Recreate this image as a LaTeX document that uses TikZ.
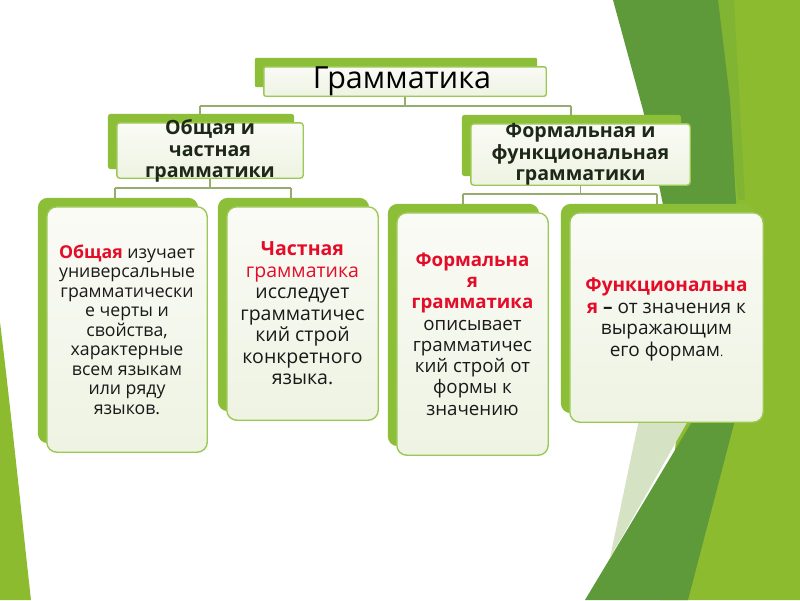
\documentclass[tikz,border=0pt]{standalone}
\usepackage{fontspec}
\setmainfont{Open Sans}
\usetikzlibrary{calc}
\definecolor{ygreen}{RGB}{141,187,48}
\definecolor{lgreen}{RGB}{128,180,50}
\definecolor{bandgreen}{RGB}{94,154,58}
\definecolor{backgreen}{RGB}{140,190,55}
\definecolor{edgegreen}{RGB}{156,200,86}
\definecolor{facetop}{RGB}{250,251,246}
\definecolor{facebot}{RGB}{238,243,226}
\definecolor{wedgec}{RGB}{214,226,196}
\definecolor{connc}{RGB}{150,172,110}
\definecolor{redtxt}{RGB}{228,12,40}
\definecolor{headtxt}{RGB}{30,40,25}
\definecolor{bodytxt}{RGB}{25,25,25}
\tikzset{
  backshape/.style={fill=backgreen, draw=none},
  face/.style={draw=edgegreen, line width=1.4pt, top color=facetop, bottom color=facebot, inner sep=0pt},
  connector/.style={draw=connc, line width=1.3pt},
  headtext/.style={align=center, text=headtxt, font=\bfseries\fontsize{19.6}{21.5}\selectfont, inner sep=0pt},
}
\begin{document}
\begin{tikzpicture}[x=1pt,y=-1pt]
\useasboundingbox (0,0) rectangle (800,600);
\fill[white] (0,0) rectangle (800,600);
% background
\fill[ygreen] (720,0) -- (800,0) -- (800,600) -- (660,600) -- cycle;
\fill[lgreen] (716,0) -- (734,0) -- (745,200) -- (738,200) -- cycle;
\fill[bandgreen] (613,0) -- (718,0) -- (730,100) -- (736,200) -- (738,300) -- (735,420) -- (688,600)
  -- (585,600) -- (693,420) -- (685,330) -- (672,250) -- (660,190) -- (643,110) -- cycle;
\fill[wedgec] (610,558) -- (642,405) -- (697,405) -- cycle;
\fill[ygreen] (0,322) .. controls (12,420) and (22,520) .. (31,600) -- (0,600) -- cycle;

% front boxes (nodes)
\coordinate (barA) at (200,106);
\coordinate (barB) at (571,106);
\coordinate (barC) at (115,188);
\coordinate (barD) at (291,188);
\coordinate (barE) at (463,194);
\coordinate (barF) at (657,194);

\path
  node[inner sep=0pt, minimum width=282pt, minimum height=29pt] (title) at (405,81.5) {}
  node[inner sep=0pt, minimum width=186pt, minimum height=55pt] (ml) at (210,150.5) {}
  node[inner sep=0pt, minimum width=219pt, minimum height=61pt] (mr) at (580.5,154.5) {}
  node[inner sep=0pt, minimum width=160pt, minimum height=245pt] (b1) at (127,329.5) {}
  node[inner sep=0pt, minimum width=151pt, minimum height=213pt] (b2) at (302.5,313.5) {}
  node[inner sep=0pt, minimum width=151pt, minimum height=242pt] (b3) at (472.5,334) {}
  node[inner sep=0pt, minimum width=193pt, minimum height=209pt] (b4) at (666.5,317.5) {};

% connectors
\draw[connector] (title.south) -- (title.south |- barA);
\draw[connector] (barA) -- (barB);
\draw[connector] (barA) -- (barA |- ml.north);
\draw[connector] (barB) -- (barB |- mr.north);
\draw[connector] (ml.south) -- (ml.south |- barC);
\draw[connector] (barC) -- (barD);
\draw[connector] (barC) -- (barC |- b1.north);
\draw[connector] (barD) -- (barD |- b2.north);
\draw[connector] (mr.south) -- (mr.south |- barE);
\draw[connector] (barE) -- (barF);
\draw[connector] (barE) -- (barE |- b3.north);
\draw[connector] (barF) -- (barF |- b4.north);

% back shapes
\foreach \n/\r in {title/2, ml/3, mr/3, b1/10, b2/10, b3/10, b4/10}{
  \fill[backshape, rounded corners=\r pt] ($(\n.north west)+(-9,-9)$) rectangle ($(\n.south east)+(-9,-9)$);
}

% front faces
\foreach \n/\r in {title/2, ml/3, mr/3, b1/10, b2/10, b3/10, b4/10}{
  \draw[face, rounded corners=\r pt] (\n.north west) rectangle (\n.south east);
}

% texts
\node[inner sep=0pt, text=black, font=\fontsize{30.5}{34}\selectfont] (titletext) at (402,81) {Грамматика};
\node[headtext] (mltext) at (210,151) {Общая и\\частная\\грамматики};
\node[headtext] (mrtext) at (580.5,154.5) {Формальная и\\функциональная\\грамматики};

\node[align=center, text=bodytxt, inner sep=0pt, font=\fontsize{17.7}{19.5}\selectfont] (b1text) at (b1.center)
 {{\bfseries\color{redtxt}Общая} изучает\\универсальные\\грамматически\\е черты и\\свойства,\\характерные\\всем языкам\\или ряду\\языков.};
\node[align=center, text=bodytxt, inner sep=0pt, font=\fontsize{19.5}{21.5}\selectfont] (b2text) at (b2.center)
 {{\bfseries\color{redtxt}Частная}\\{\color{redtxt}грамматика}\\исследует\\грамматичес\\кий строй\\конкретного\\языка.};
\node[align=center, text=bodytxt, inner sep=0pt, font=\fontsize{18.7}{21.3}\selectfont] (b3text) at (b3.center)
 {{\bfseries\color{redtxt}Формальна}\\{\bfseries\color{redtxt}я}\\{\bfseries\color{redtxt}грамматика}\\описывает\\грамматичес\\кий строй от\\формы к\\значению};
\node[align=center, text=bodytxt, inner sep=0pt, font=\fontsize{19}{21.7}\selectfont] (b4text) at ($(b4.center)+(0,2)$)
 {{\bfseries\color{redtxt}Функциональна}\\{\bfseries\color{redtxt}я} {\bfseries –} от значения к\\выражающим\\его формам{\fontsize{12}{14}\selectfont .}};
\end{tikzpicture}
\end{document}
